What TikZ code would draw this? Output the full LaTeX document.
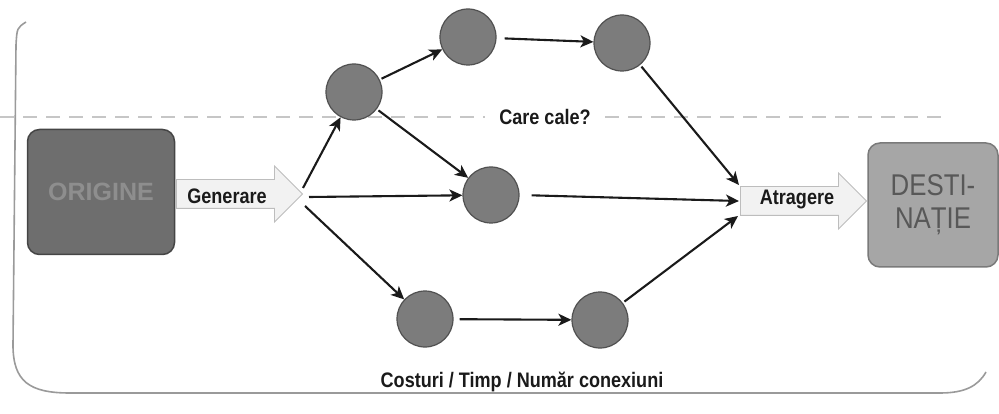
\documentclass[tikz,border=0pt]{standalone}
\usepackage{fontspec}
\setmainfont{Liberation Sans}
\newfontfamily\nb{Liberation Sans}[FakeStretch=0.86]
\usetikzlibrary{arrows.meta,shapes.arrows}
\definecolor{origfill}{HTML}{6E6E6E}
\definecolor{origline}{HTML}{454545}
\definecolor{origtext}{HTML}{8E8E8E}
\definecolor{destfill}{HTML}{A6A6A6}
\definecolor{destline}{HTML}{7A7A7A}
\definecolor{desttext}{HTML}{585858}
\definecolor{circfill}{HTML}{7C7C7C}
\definecolor{circline}{HTML}{505050}
\definecolor{blockfill}{HTML}{F2F2F2}
\definecolor{blockline}{HTML}{BDBDBD}
\definecolor{framec}{HTML}{9A9A9A}
\definecolor{ink}{HTML}{1A1A1A}
\tikzset{
  hub/.style={circle,fill=circfill,draw=circline,line width=1.2pt,minimum size=56pt,inner sep=0pt},
  conn/.style={draw=ink,line width=2.1pt,-{Stealth[length=13pt,width=12pt,inset=3.5pt]}},
  blockarrow/.style={single arrow,fill=blockfill,draw=blockline,line width=0.9pt,
     single arrow tip angle=90,single arrow head extend=13.5pt,inner sep=0pt,
     anchor=west},
  lbl/.style={font=\nb\bfseries\fontsize{21}{24}\selectfont,text=ink,inner sep=1pt},
}
\begin{document}
\begin{tikzpicture}[x=1pt,y=-1pt]
\useasboundingbox (0,0) rectangle (999,414);
% frame
\draw[framec,line width=1.6pt] (26,22) .. controls (17,28) .. (16,45) -- (13,345)
   .. controls (13,382) and (30,393) .. (70,393) -- (940,393)
   .. controls (965,393) and (978,386) .. (986,372);
% dashed guide line
\draw[gray!45,line width=1.2pt,dash pattern=on 14pt off 9pt] (0,117) -- (485,117);
\draw[gray!45,line width=1.2pt,dash pattern=on 14pt off 9pt] (605,117) -- (945,117);
% boxes
\node[rounded corners=12pt,fill=origfill,draw=origline,line width=1.5pt,
      minimum width=147pt,minimum height=125pt,inner sep=0pt,
      font=\bfseries\fontsize{25}{28}\selectfont,text=origtext] (origine) at (101,192) {ORIGINE};
\node[rounded corners=12pt,fill=destfill,draw=destline,line width=1.5pt,
      minimum width=130pt,minimum height=124pt,inner sep=0pt,align=center,
      font=\nb\fontsize{30}{33}\selectfont,text=desttext] (dest) at (933,205) {DESTI-\\NAȚIE};
% block arrows
\node[blockarrow,minimum height=126pt] (gen) at (176,194) {\vrule width 0pt height 14pt depth 14pt};
\node[lbl] (gentxt) at (227,196) {Generare};
\node[blockarrow,minimum height=126pt] (atr) at (740,201) {\vrule width 0pt height 14pt depth 14pt};
\node[lbl] (atrtxt) at (797,200) {Atragere};
% hubs
\node[hub] (n1) at (354,92) {};
\node[hub] (n2) at (468,37) {};
\node[hub] (n3) at (622,43) {};
\node[hub] (n4) at (491,195) {};
\node[hub] (n5) at (425,319) {};
\node[hub] (n6) at (600,320) {};
% labels
\node[lbl] (care) at (545,117) {Care cale?};
\node[lbl] (cost) at (522,382) {Costuri / Timp / Număr conexiuni};
% fan points
\coordinate (f1) at (303,188);
\coordinate (f2) at (309,197);
\coordinate (f3) at (305,206);
\coordinate (a1) at (739,185);
\coordinate (a2) at (739,201);
\coordinate (a3) at (738,216);
% connectors
\draw[conn] (f1) -- (n1);
\draw[conn] (f2) -- (n4);
\draw[conn] (f3) -- (n5);
\draw[conn,shorten <=2pt] (n1) -- (n2);
\draw[conn,shorten <=8pt] (n2) -- (n3);
\draw[conn,shorten <=2pt] (n1) -- (n4);
\draw[conn,shorten <=6pt] (n5) -- (n6);
\draw[conn,shorten <=2pt] (n3) -- (a1);
\draw[conn,shorten <=12pt] (n4.east) -- (a2);
\draw[conn,shorten <=2pt] (n6) -- (a3);
\end{tikzpicture}
\end{document}
